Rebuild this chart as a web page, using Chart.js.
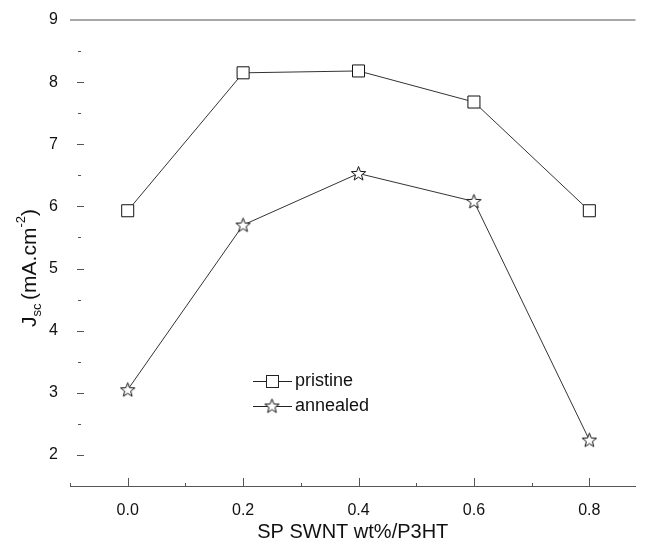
<!DOCTYPE html>
<html>
<head>
<meta charset="utf-8">
<script src="https://cdn.jsdelivr.net/npm/chart.js@4.4.1/dist/chart.umd.min.js"></script>
<style>
  html, body { margin: 0; padding: 0; background: #fff; }
</style>
</head>
<body>
<canvas id="myChart" width="645" height="544"></canvas>
<script>
const xValues = [0.0, 0.2, 0.4, 0.6, 0.8];
const pristine = [5.93, 8.15, 8.18, 7.68, 5.93];
const annealed = [3.05, 5.70, 6.53, 6.08, 2.24];
const seriesNames = ['pristine', 'annealed'];
const xTicks = [0.0, 0.2, 0.4, 0.6, 0.8];
const xMinorTicks = [-0.1, 0.1, 0.3, 0.5, 0.7];
const yTicks = [2, 3, 4, 5, 6, 7, 8, 9];
const yMinorTicks = [2.5, 3.5, 4.5, 5.5, 6.5, 7.5, 8.5];

const FONT = '"Liberation Sans", Arial, sans-serif';

// open five point star used as marker
function makeStar(size) {
    const c = document.createElement('canvas');
    c.width = size; c.height = size;
    const g = c.getContext('2d');
    const cx = size / 2, cy = size / 2 + 0.5;
    const outer = size / 2 - 1, inner = outer * 0.42;
    g.beginPath();
    for (let i = 0; i < 10; i++) {
        const r = i % 2 ? inner : outer;
        const a = -Math.PI / 2 + i * Math.PI / 5;
        const px = cx + r * Math.cos(a), py = cy + r * Math.sin(a);
        if (i === 0) g.moveTo(px, py); else g.lineTo(px, py);
    }
    g.closePath();
    g.fillStyle = '#fff';
    g.fill();
    g.lineWidth = 1;
    g.strokeStyle = '#111';
    g.stroke();
    return c;
}
const star = makeStar(17);

const toPoints = ys => xValues.map((x, i) => ({ x: x, y: ys[i] }));

const decor = {
    id: 'decor',
    afterDraw(chart) {
        const ctx = chart.ctx;
        const area = chart.chartArea;
        const xs = chart.scales.x, ys = chart.scales.y;
        ctx.save();

        // top frame line
        ctx.strokeStyle = '#a8a8a8';
        ctx.lineWidth = 2;
        ctx.beginPath();
        ctx.moveTo(area.left, ys.getPixelForValue(9));
        ctx.lineTo(area.right, ys.getPixelForValue(9));
        ctx.stroke();

        // y tick dashes
        ctx.strokeStyle = '#555';
        ctx.lineWidth = 1;
        yTicks.filter(v => v < 9).forEach(v => {
            const y = Math.round(ys.getPixelForValue(v)) + 0.5;
            ctx.beginPath(); ctx.moveTo(area.left + 7, y); ctx.lineTo(area.left + 14, y); ctx.stroke();
        });
        yMinorTicks.forEach(v => {
            const y = Math.round(ys.getPixelForValue(v)) + 0.5;
            ctx.beginPath(); ctx.moveTo(area.left + 8, y); ctx.lineTo(area.left + 11, y); ctx.stroke();
        });

        // x ticks pointing up
        const yb = area.bottom;
        xTicks.forEach(v => {
            const x = Math.round(xs.getPixelForValue(v)) + 0.5;
            ctx.beginPath(); ctx.moveTo(x, yb); ctx.lineTo(x, yb - 8); ctx.stroke();
        });
        xMinorTicks.forEach(v => {
            const x = Math.round(xs.getPixelForValue(v)) + 0.5;
            ctx.beginPath(); ctx.moveTo(x, yb); ctx.lineTo(x, yb - 3); ctx.stroke();
        });

        // y axis title with subscript and superscript
        ctx.translate(30, 268);
        ctx.rotate(-Math.PI / 2);
        ctx.fillStyle = '#111';
        ctx.textBaseline = 'middle';
        const parts = [
            { t: 'J', f: 21, dy: 0 },
            { t: 'sc ', f: 13, dy: 7 },
            { t: '(mA.cm', f: 21, dy: 0 },
            { t: '-2', f: 13, dy: -9 },
            { t: ')', f: 21, dy: 0 }
        ];
        let total = 0;
        parts.forEach(p => { ctx.font = p.f + 'px ' + FONT; p.w = ctx.measureText(p.t).width; total += p.w; });
        let cx = -total / 2;
        parts.forEach(p => {
            ctx.font = p.f + 'px ' + FONT;
            ctx.textAlign = 'left';
            ctx.fillText(p.t, cx, p.dy);
            cx += p.w;
        });
        ctx.restore();

        // legend
        ctx.save();
        ctx.font = '18px ' + FONT;
        ctx.fillStyle = '#111';
        ctx.textBaseline = 'middle';
        ctx.strokeStyle = '#222';
        ctx.lineWidth = 1;
        const lx0 = 253, lx1 = 292, mx = 272;
        const rows = [381, 406];
        rows.forEach((y, i) => {
            ctx.beginPath(); ctx.moveTo(lx0, y + 0.5); ctx.lineTo(lx1, y + 0.5); ctx.stroke();
            if (i === 0) {
                ctx.fillStyle = '#fff';
                ctx.fillRect(mx - 6, y - 6, 12, 12);
                ctx.strokeRect(mx - 5.5, y - 5.5, 12, 12);
            } else {
                ctx.drawImage(star, mx - 8.5, y - 8.5);
            }
            ctx.fillStyle = '#111';
            ctx.fillText(seriesNames[i], 295, y);
        });
        ctx.restore();
    }
};

new Chart(document.getElementById('myChart'), {
    type: 'line',
    data: {
        datasets: [
            {
                label: seriesNames[0],
                data: toPoints(pristine),
                borderColor: '#333',
                borderWidth: 1,
                pointStyle: 'rect',
                pointRadius: 8.5,
                pointHoverRadius: 8.5,
                pointBackgroundColor: '#fff',
                pointBorderColor: '#111',
                pointBorderWidth: 1
            },
            {
                label: seriesNames[1],
                data: toPoints(annealed),
                borderColor: '#333',
                borderWidth: 1,
                pointStyle: star,
                pointRadius: 8,
                pointHoverRadius: 8
            }
        ]
    },
    options: {
        responsive: false,
        animation: false,
        devicePixelRatio: 1,
        layout: { padding: { top: 20, right: 0, left: 0, bottom: 0 } },
        plugins: {
            legend: { display: false },
            tooltip: { enabled: false }
        },
        scales: {
            x: {
                type: 'linear',
                min: -0.1,
                max: 0.88,
                afterBuildTicks: s => { s.ticks = xTicks.map(v => ({ value: v })); },
                afterFit: s => { s.height = 58; },
                grid: { display: false },
                border: { display: true, color: '#555', width: 1 },
                ticks: {
                    padding: 7,
                    color: '#111',
                    font: { family: FONT, size: 16 },
                    callback: v => v.toFixed(1)
                },
                title: {
                    display: true,
                    text: 'SP SWNT wt%/P3HT',
                    color: '#111',
                    font: { family: FONT, size: 20 },
                    padding: { top: 2, bottom: 0 }
                }
            },
            y: {
                min: 1.5,
                max: 9,
                afterBuildTicks: s => { s.ticks = yTicks.map(v => ({ value: v })); },
                afterFit: s => { s.width = 70; },
                grid: { display: false },
                border: { display: false },
                ticks: {
                    padding: 4,
                    color: '#111',
                    font: { family: FONT, size: 16 }
                }
            }
        }
    },
    plugins: [decor]
});
</script>
</body>
</html>
